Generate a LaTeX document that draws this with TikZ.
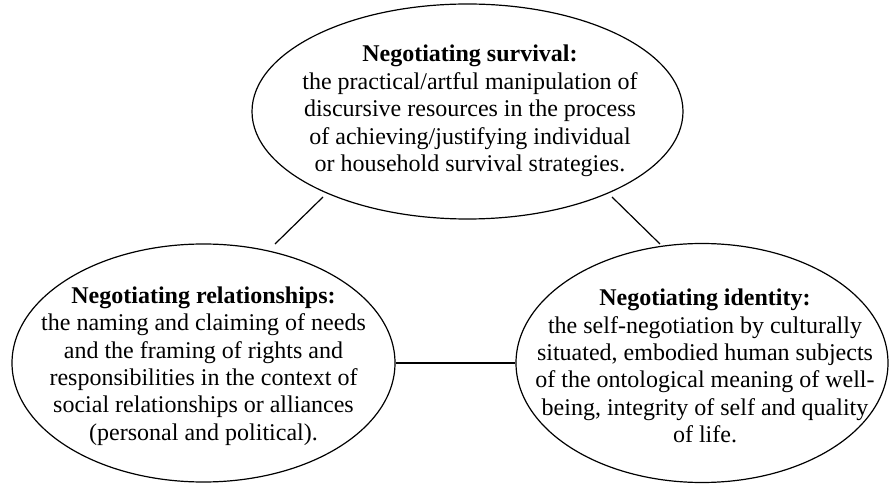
\documentclass[tikz,border=0pt]{standalone}
\usepackage{fontspec}
\setmainfont{Liberation Serif}
\usetikzlibrary{shapes.geometric}
\begin{document}
\begin{tikzpicture}[x=0.5pt,y=-0.5pt,
  oval/.style={draw, ellipse, line width=0.6pt, inner sep=0pt},
  txt/.style={align=center, font=\fontsize{12pt}{13.7pt}\selectfont, inner sep=0pt},
  link/.style={line width=0.6pt}]
\useasboundingbox (0,0) rectangle (890,486);
% ellipses
\node[oval, minimum width=215.5pt, minimum height=107.5pt] (surv) at (467.5,111.5) {};
\node[oval, minimum width=191.5pt, minimum height=119pt] (rel) at (203.5,363) {};
\node[oval, minimum width=186pt, minimum height=119.5pt] (iden) at (702,363) {};
% texts
\node[txt] (survt) at (470,111) {\textbf{Negotiating survival:}\\
the practical/artful manipulation of\\
discursive resources in the process\\
of achieving/justifying individual\\
or household survival strategies.};
\node[txt] (relt) at (203.5,366) {\textbf{Negotiating relationships:}\\
the naming and claiming of needs\\
and the framing of rights and\\
responsibilities in the context of\\
social relationships or alliances\\
(personal and political).};
\node[txt] (ident) at (705,366) {\textbf{Negotiating identity:}\\
the self-negotiation by culturally\\
situated, embodied human subjects\\
of the ontological meaning of well-\\
being, integrity of self and quality\\
of life.};
% connector ends
\coordinate (a1) at (323,197);
\coordinate (a2) at (275,244);
\coordinate (b1) at (612,197);
\coordinate (b2) at (660,244);
\draw[link] (a1) -- (a2);
\draw[link] (b1) -- (b2);
\draw[link] (rel.east) -- (iden.west);
\end{tikzpicture}
\end{document}
